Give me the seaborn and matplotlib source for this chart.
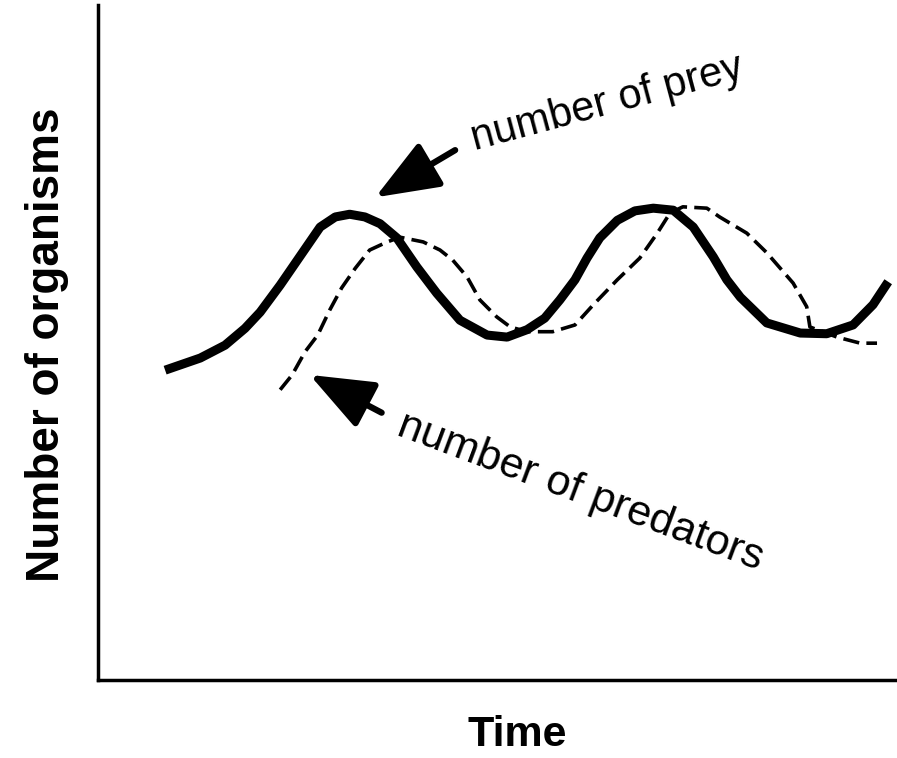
import matplotlib
matplotlib.use("Agg")
import matplotlib.pyplot as plt
import seaborn as sns
import pandas as pd
from matplotlib.patches import FancyArrowPatch

# Data (arbitrary units, x: time, y: number of organisms)
prey_t = [8.4, 12.8, 15.9, 18.4, 20.3, 22.8, 25.3, 27.8, 29.7, 31.5, 33.4, 35.3, 37.4,
          39.9, 42.4, 45.3, 48.7, 51.2, 53.7, 55.9, 57.8, 59.7, 61.2, 62.8, 65.0, 67.2,
          69.5, 72.0, 74.5, 77.0, 78.7, 80.4, 83.7, 87.9, 91.2, 94.5, 97.0, 98.9]
prey_n = [45.9, 47.7, 49.6, 52.1, 54.5, 58.5, 62.8, 67.1, 68.6, 69.0, 68.6, 67.6, 65.5,
          61.2, 57.3, 53.3, 51.1, 50.8, 51.9, 53.6, 56.3, 59.3, 62.5, 65.5, 68.1, 69.5,
          69.9, 69.6, 67.1, 62.7, 59.3, 56.7, 52.9, 51.4, 51.3, 52.6, 55.6, 59.0]

pred_t = [22.8, 24.3, 25.9, 27.5, 29.0, 30.5, 32.2, 34.0, 36.2, 37.8, 40.7, 42.8, 44.4,
          46.2, 47.8, 49.9, 51.6, 53.7, 56.9, 59.7, 62.0, 65.0, 67.8, 70.0, 71.6, 73.2,
          76.2, 77.8, 81.2, 83.7, 87.0, 88.7, 89.1, 92.5, 95.4, 97.5]
pred_n = [43.0, 45.2, 48.6, 51.1, 54.8, 58.1, 61.0, 63.7, 64.9, 65.6, 64.9, 63.7, 62.2,
          59.7, 56.3, 53.8, 52.3, 51.6, 51.6, 52.6, 55.6, 59.3, 62.5, 66.2, 69.2, 70.1,
          69.9, 68.6, 66.2, 63.3, 58.8, 55.3, 52.3, 50.8, 49.9, 49.9]

x_label = "Time"
y_label = "Number of organisms"
prey_label = "number of prey"
pred_label = "number of predators"

sns.set_style("white")
plt.rcParams["font.family"] = ["Liberation Sans", "DejaVu Sans"]
plt.rcParams["text.color"] = "black"
plt.rcParams["axes.labelcolor"] = "black"

fig = plt.figure(figsize=(8.97, 7.58), dpi=100)
ax = fig.add_axes([98 / 897, 78 / 758, 1 - 98 / 897, (680 - 5) / 758])

prey_df = pd.DataFrame({"t": prey_t, "n": prey_n})
pred_df = pd.DataFrame({"t": pred_t, "n": pred_n})

sns.lineplot(data=prey_df, x="t", y="n", sort=False, estimator=None, ax=ax,
             color="black", linewidth=6.5, solid_capstyle="butt", solid_joinstyle="round")
sns.lineplot(data=pred_df, x="t", y="n", sort=False, estimator=None, ax=ax,
             color="black", linewidth=2.6, dashes=False)
ax.lines[-1].set_dashes([4.5, 2])

ax.set_xlim(0, 100)
ax.set_ylim(0, 100)
ax.set_xticks([])
ax.set_yticks([])
for side in ["top", "right"]:
    ax.spines[side].set_visible(False)
for side in ["left", "bottom"]:
    ax.spines[side].set_color("black")
    ax.spines[side].set_linewidth(2.5)

ax.set_xlabel(x_label, fontsize=31, fontweight="bold", color="black")
ax.xaxis.set_label_coords((517 - 98) / 799, -(735 - 680) / 675)
ax.xaxis.label.set_va("center")
ax.set_ylabel(y_label, fontsize=33, fontweight="bold", color="black")
ax.yaxis.set_label_coords(-(98 - 47) / 799, (680 - 345) / 675)
ax.yaxis.label.set_va("center")

# annotations
ax.text(47.2, 78.5, prey_label, fontsize=30, rotation=15, rotation_mode="anchor",
        ha="left", va="baseline", color="black")
ax.text(37.2, 36.3, pred_label, fontsize=31, rotation=-20.5, rotation_mode="anchor",
        ha="left", va="baseline", color="black")

for (x0, y0), (x1, y1) in [((44.7, 78.5), (34.7, 71.5)), ((35.5, 39.6), (26.5, 45.2))]:
    arr = FancyArrowPatch((x0, y0), (x1, y1), arrowstyle="-|>,head_length=1.4,head_width=0.55",
                          mutation_scale=28, color="black", linewidth=4.5,
                          shrinkA=0, shrinkB=0)
    ax.add_patch(arr)

fig.savefig("out.png", dpi=100)
